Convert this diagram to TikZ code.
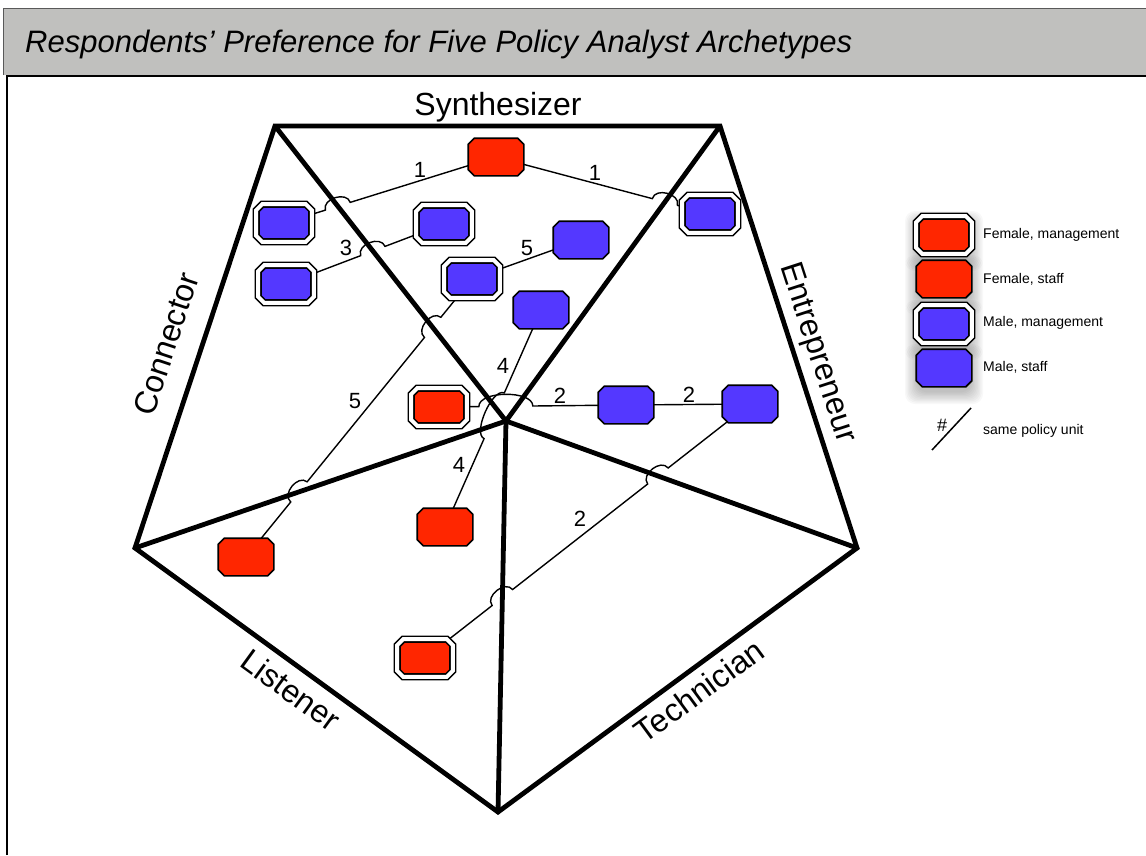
\documentclass[tikz,border=0pt]{standalone}
\usepackage{fontspec}
\setmainfont{Liberation Sans}
\usetikzlibrary{calc,intersections}
\definecolor{fred}{RGB}{255,38,0}
\definecolor{mblue}{RGB}{84,56,255}
\definecolor{bargray}{RGB}{192,192,190}
\newcommand\setfs[1]{\fontsize{#1}{#1}\selectfont}
\newcommand\hopseg[7]{-- ($(#1)!#4!(#2)$) .. controls ($(#1)!#4!(#2)!#5!#6:(#1)$) and ($(#1)!#4!(#3)!#5!#7:(#1)$) .. ($(#1)!#4!(#3)$)}
\newdimen\octA \newdimen\octB \newdimen\octC \newdimen\octD
\def\octcut{6pt}
\makeatletter
\pgfdeclareshape{octbox}{%
  \inheritsavedanchors[from=rectangle]%
  \inheritanchorborder[from=rectangle]%
  \inheritanchor[from=rectangle]{center}%
  \inheritanchor[from=rectangle]{text}%
  \inheritanchor[from=rectangle]{base}%
  \inheritanchor[from=rectangle]{mid}%
  \inheritanchor[from=rectangle]{north}%
  \inheritanchor[from=rectangle]{south}%
  \inheritanchor[from=rectangle]{east}%
  \inheritanchor[from=rectangle]{west}%
  \inheritanchor[from=rectangle]{north east}%
  \inheritanchor[from=rectangle]{north west}%
  \inheritanchor[from=rectangle]{south east}%
  \inheritanchor[from=rectangle]{south west}%
  \backgroundpath{%
    \southwest \octA=\pgf@x \octB=\pgf@y
    \northeast \octC=\pgf@x \octD=\pgf@y
    \pgfpathmoveto{\pgfqpoint{\dimexpr\octA+\octcut\relax}{\octB}}%
    \pgfpathlineto{\pgfqpoint{\dimexpr\octC-\octcut\relax}{\octB}}%
    \pgfpathlineto{\pgfqpoint{\octC}{\dimexpr\octB+\octcut\relax}}%
    \pgfpathlineto{\pgfqpoint{\octC}{\dimexpr\octD-\octcut\relax}}%
    \pgfpathlineto{\pgfqpoint{\dimexpr\octC-\octcut\relax}{\octD}}%
    \pgfpathlineto{\pgfqpoint{\dimexpr\octA+\octcut\relax}{\octD}}%
    \pgfpathlineto{\pgfqpoint{\octA}{\dimexpr\octD-\octcut\relax}}%
    \pgfpathlineto{\pgfqpoint{\octA}{\dimexpr\octB+\octcut\relax}}%
    \pgfpathclose
  }%
}
\makeatother
\pgfdeclarelayer{bg}
\pgfsetlayers{bg,main}
\tikzset{
  unitbox/.style={octbox, minimum width=54pt, minimum height=36pt, inner sep=0pt,
    draw=black, line width=1.6pt, line join=miter},
  staff/.style={unitbox},
  mgmt/.style={unitbox, double=white, double distance=4pt},
  fem/.style={fill=fred},
  mal/.style={fill=mblue},
  edgeline/.style={line width=4.8pt},
  conn/.style={line width=1.4pt},
  num/.style={font=\setfs{22}, inner sep=0pt},
  arch/.style={font=\setfs{32}, inner sep=0pt},
  legtext/.style={font=\setfs{14}, anchor=west, inner sep=0pt},
  shadowpiece/.style={fill=black, fill opacity=0.028, rounded corners=10pt}
}
\begin{document}
\begin{tikzpicture}[x=1pt, y=-1pt]
\useasboundingbox (0,0) rectangle (1146,855);
% title bar and frame
\fill[bargray] (3,8) rectangle (1146,75);
\draw[line width=1pt, black!65] (3,75) -- (3,8) -- (1146,8);
\draw[line width=2pt] (7,855) -- (7,76) -- (1146,76);
\node[anchor=base west, font=\setfs{31}\itshape, inner sep=0pt] (title) at (25,52)
  {Respondents’ Preference for Five Policy Analyst Archetypes};

% pentagon points
\coordinate (TL) at (275,126);
\coordinate (TR) at (720,126);
\coordinate (R) at (857,548);
\coordinate (B) at (498,812);
\coordinate (L) at (135,548);
\coordinate (C) at (506,421);

% archetype labels
\node[arch, anchor=base] (synth) at (498,115) {Synthesizer};
\node[arch, rotate=71.6] (connl) at (166,344) {Connector};
\node[arch, rotate=-72] (entl) at (817,353) {Entrepreneur};
\node[arch, rotate=-36] (listl) at (291,690) {Listener};
\node[arch, rotate=36.3] (techl) at (699,691) {Technician};

% respondents
\node[staff, fem] (n1) at (496,157) {};
\node[mgmt, mal] (n2) at (284,223) {};
\node[mgmt, mal] (n3) at (444,224) {};
\node[mgmt, mal] (n4) at (286,284) {};
\node[mgmt, mal] (n5) at (710,214) {};
\node[staff, mal] (n6) at (581,240) {};
\node[mgmt, mal] (n7) at (472,279) {};
\node[staff, mal] (n8) at (541,310) {};
\node[mgmt, fem] (n9) at (439,407) {};
\node[staff, mal] (n10) at (626,405) {};
\node[staff, mal] (n11) at (750,404) {};
\node[staff, fem] (n12) at (445,527) {};
\node[staff, fem] (n13) at (246,557) {};
\node[mgmt, fem] (n14) at (425,658) {};

% connector labels
\node[num] (lb1a) at (420,170) {1};
\node[num] (lb1b) at (595,173) {1};
\node[num] (lb3) at (346,248) {3};
\node[num] (lb5a) at (527,248) {5};
\node[num] (lb5b) at (355,401) {5};
\node[num] (lb4a) at (503,366) {4};
\node[num] (lb4b) at (459,465) {4};
\node[num] (lb2a) at (560,396) {2};
\node[num] (lb2b) at (689,395) {2};
\node[num] (lb2c) at (580,519) {2};

% legend
\node[mgmt, fem] (lg1) at (944,235) {};
\node[staff, fem] (lg2) at (944,279) {};
\node[mgmt, mal] (lg3) at (944,324) {};
\node[staff, mal] (lg4) at (944,368) {};
\node[legtext] (lt1) at (983,235) {Female, management};
\node[legtext] (lt2) at (983,279) {Female, staff};
\node[legtext] (lt3) at (983,323) {Male, management};
\node[legtext] (lt4) at (983,367) {Male, staff};
\coordinate (ua) at (932,450);
\coordinate (ub) at (971,408);
\draw[line width=1.5pt] (ua) -- (ub);
\node[font=\setfs{18}, inner sep=0pt] (hash) at (942,425) {\#};
\node[legtext] (lt5) at (983,431) {same policy unit};

\begin{pgfonlayer}{bg}
  % soft shadows behind the legend symbols
  \foreach \n in {lg1,lg2,lg3,lg4} {
    \foreach \k in {1,...,10} {
      \fill[shadowpiece] ($(\n)+(-26-1.3*\k,-17-1.3*\k+6)$) rectangle ($(\n)+(26+1.3*\k,17+1.3*\k+6)$);
    }
  }
  \draw[edgeline, line join=miter] (TL) -- (TR) -- (R) -- (B) -- (L) -- cycle;
  \draw[edgeline, name path=dtl] (TL) -- (C);
  \draw[edgeline, name path=dtr] (TR) -- (C);
  \draw[edgeline, name path=sl, line cap=round] (C) -- (L);
  \draw[edgeline, name path=sr, line cap=round] (C) -- (R);
  \draw[edgeline, name path=sb, line cap=round] (C) -- (B);

  \path[name path=p1] (n1.center) -- (n2.center);
  \path[name path=p1r] (n1.center) -- (n5.center);
  \path[name path=p3] (n4.center) -- (n3.center);
  \path[name path=p5] (n7.center) -- (n13.center);
  \path[name path=p2c] (n11.center) -- (n14.center);
  \path[name intersections={of=p1 and dtl, by=x1}];
  \path[name intersections={of=p1r and dtr, by=x1r}];
  \path[name intersections={of=p3 and dtl, by=x3}];
  \path[name intersections={of=p5 and dtl, by=x5a}];
  \path[name intersections={of=p5 and sl, by=x5b}];
  \path[name intersections={of=p2c and sr, by=x2ca}];
  \path[name intersections={of=p2c and sb, by=x2cb}];
  \coordinate (x2a) at ($(n9)!(C)!(n10)$);
  \coordinate (x4) at ($(n8)!(C)!(n12)$);

  \draw[conn] (n1.center) \hopseg{x1}{n1}{n2}{13pt}{12pt}{-90}{90} -- (n2.center);
  \draw[conn] (n1.center) \hopseg{x1r}{n1}{n5}{13pt}{12pt}{90}{-90} -- (n5.center);
  \draw[conn] (n4.center) \hopseg{x3}{n4}{n3}{13pt}{12pt}{90}{-90} -- (n3.center);
  \draw[conn] (n7.center) -- (n6.center);
  \draw[conn] (n7.center) \hopseg{x5a}{n7}{n13}{13pt}{12pt}{-90}{90}
                   \hopseg{x5b}{n7}{n13}{13pt}{12pt}{-90}{90} -- (n13.center);
  \draw[conn] (n9.center) \hopseg{x2a}{n9}{n10}{27pt}{16pt}{90}{-90} -- (n10.center);
  \draw[conn] (n10.center) -- (n11.center);
  \draw[conn] (n8.center) \hopseg{x4}{n8}{n12}{25pt}{13pt}{-90}{90} -- (n12.center);
  \draw[conn] (n11.center) \hopseg{x2ca}{n11}{n14}{13pt}{12pt}{-90}{90}
                    \hopseg{x2cb}{n11}{n14}{13pt}{12pt}{-90}{90} -- (n14.center);
\end{pgfonlayer}
\end{tikzpicture}
\end{document}
